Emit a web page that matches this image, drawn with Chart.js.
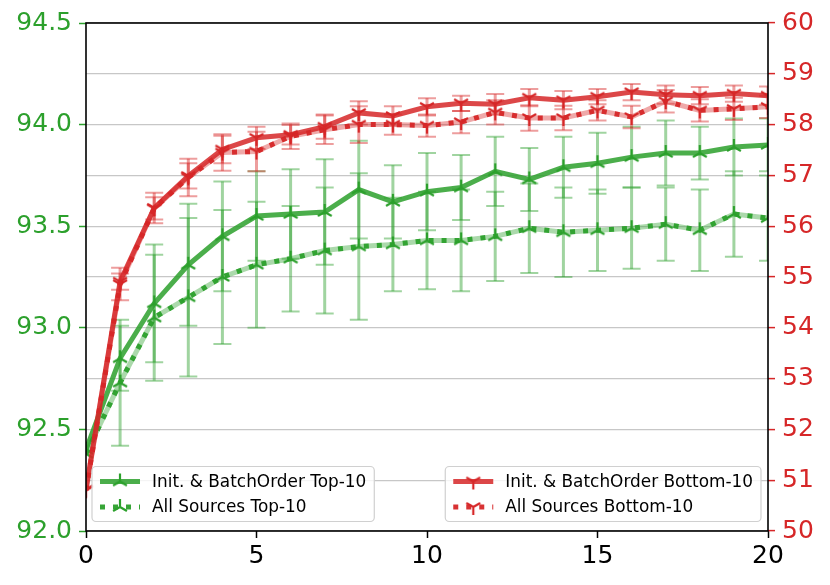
<!DOCTYPE html>
<html>
<head>
<meta charset="utf-8">
<title>Top-10 vs Bottom-10</title>
<script src="https://cdn.jsdelivr.net/npm/chart.js@4.4.1/dist/chart.umd.min.js"></script>
<style>
  html, body { margin: 0; padding: 0; background: #fff; }
  #wrap { width: 830px; height: 585px; }
</style>
</head>
<body>
<div id="wrap"><canvas id="myChart" width="830" height="585"></canvas></div>
<script>
// x values (epochs)
let epochs = [0, 1, 2, 3, 4, 5, 6, 7, 8, 9, 10, 11, 12, 13, 14, 15, 16, 17, 18, 19, 20];

// Top-10 series (left axis)
let greenInit = [92.40, 92.85, 93.12, 93.31, 93.45, 93.55, 93.56, 93.57, 93.68, 93.62, 93.67,
                 93.69, 93.77, 93.73, 93.79, 93.81, 93.84, 93.86, 93.86, 93.89, 93.90];
let greenInitErr = [0, 0.16, 0.29, 0.30, 0.27, 0.22, 0.22, 0.26, 0.24, 0.18, 0.19,
                    0.16, 0.17, 0.155, 0.15, 0.15, 0.15, 0.16, 0.13, 0.14, 0.13];
let greenAll = [92.38, 92.73, 93.05, 93.15, 93.25, 93.31, 93.34, 93.38, 93.40, 93.41, 93.43,
                93.43, 93.45, 93.49, 93.47, 93.48, 93.49, 93.51, 93.48, 93.56, 93.54];
let greenAllErr = [0, 0.31, 0.31, 0.39, 0.33, 0.31, 0.26, 0.31, 0.36, 0.23, 0.24,
                   0.25, 0.22, 0.22, 0.22, 0.20, 0.20, 0.18, 0.20, 0.21, 0.21];

// Bottom-10 series (right axis)
let redInit = [50.82, 54.91, 56.36, 56.99, 57.51, 57.74, 57.80, 57.96, 58.23, 58.17, 58.35,
               58.42, 58.40, 58.53, 58.48, 58.55, 58.64, 58.59, 58.57, 58.61, 58.57];
let redInitErr = [0, 0.16, 0.30, 0.25, 0.27, 0.22, 0.19, 0.24, 0.23, 0.19, 0.17,
                  0.15, 0.20, 0.17, 0.18, 0.15, 0.16, 0.18, 0.17, 0.16, 0.18];
let redAll = [50.80, 54.86, 56.35, 56.96, 57.45, 57.47, 57.77, 57.90, 58.00, 58.00, 57.98,
              58.05, 58.24, 58.13, 58.13, 58.28, 58.15, 58.46, 58.28, 58.31, 58.35];
let redAllErr = [0, 0.32, 0.22, 0.37, 0.36, 0.39, 0.25, 0.28, 0.36, 0.20, 0.22,
                 0.22, 0.24, 0.25, 0.24, 0.20, 0.22, 0.22, 0.22, 0.22, 0.22];

// axis ranges and ticks
let xTicks = { min: 0, max: 20, step: 5 };
let leftTicks = { min: 92.0, max: 94.5, step: 0.5 };
let rightTicks = { min: 50, max: 60, step: 1 };

// legend labels
let labelGreenInit = 'Init. & BatchOrder Top-10';
let labelGreenAll = 'All Sources Top-10';
let labelRedInit = 'Init. & BatchOrder Bottom-10';
let labelRedAll = 'All Sources Bottom-10';

// colours (matplotlib tab:green / tab:red)
let green = 'rgba(44, 160, 44, 0.85)';
let greenDot = 'rgba(44, 160, 44, 0.95)';
let greenLight = 'rgba(44, 160, 44, 0.40)';
let greenErr = 'rgba(44, 160, 44, 0.45)';
let red = 'rgba(214, 39, 40, 0.85)';
let redDot = 'rgba(214, 39, 40, 0.95)';
let redLight = 'rgba(214, 39, 40, 0.40)';
let redErr = 'rgba(214, 39, 40, 0.45)';

let tickFont = { family: 'DejaVu Sans', size: 25 };
let legendFont = '16.9px "DejaVu Sans"';

// small canvas with a matplotlib style tri marker ('2' tri_up, '1' tri_down)
function triMarker(color, pointUp) {
    let c = document.createElement('canvas');
    c.width = 20;
    c.height = 20;
    let ctx = c.getContext('2d');
    let r = 8;
    let s = pointUp ? -1 : 1;
    ctx.strokeStyle = color;
    ctx.lineWidth = 2.2;
    ctx.beginPath();
    ctx.moveTo(10, 10); ctx.lineTo(10, 10 + s * r);
    ctx.moveTo(10, 10); ctx.lineTo(10 - 0.866 * r, 10 - s * 0.5 * r);
    ctx.moveTo(10, 10); ctx.lineTo(10 + 0.866 * r, 10 - s * 0.5 * r);
    ctx.stroke();
    return c;
}

let greenMarker = triMarker('rgb(44, 160, 44)', true);
let redMarker = triMarker('rgb(214, 39, 40)', false);

//draws vertical error bars with caps, under the dataset that owns them
const errorBars = {
    id: 'errorBars',
    beforeDatasetDraw(chart, args) {
        let ds = chart.data.datasets[args.index];
        if (!ds.errors) return;
        let ctx = chart.ctx;
        let area = chart.chartArea;
        let yScale = chart.scales[ds.yAxisID];
        ctx.save();
        ctx.beginPath();
        ctx.rect(area.left, area.top, area.width, area.height);
        ctx.clip();
        ctx.strokeStyle = ds.errorColor;
        args.meta.data.forEach((pt, i) => {
            let err = ds.errors[i];
            if (!err) return;
            let top = yScale.getPixelForValue(ds.data[i] + err);
            let bottom = yScale.getPixelForValue(ds.data[i] - err);
            ctx.lineWidth = 3;
            ctx.beginPath();
            ctx.moveTo(pt.x, top);
            ctx.lineTo(pt.x, bottom);
            ctx.stroke();
            ctx.lineWidth = 2;
            ctx.beginPath();
            ctx.moveTo(pt.x - 9, top); ctx.lineTo(pt.x + 9, top);
            ctx.moveTo(pt.x - 9, bottom); ctx.lineTo(pt.x + 9, bottom);
            ctx.stroke();
        });
        ctx.restore();
    }
};

//black box round the plot area
const frame = {
    id: 'frame',
    afterDatasetsDraw(chart) {
        let ctx = chart.ctx;
        let a = chart.chartArea;
        ctx.save();
        ctx.strokeStyle = '#000';
        ctx.lineWidth = 1.6;
        ctx.strokeRect(a.left, a.top, a.width, a.height);
        ctx.restore();
    }
};

function roundRect(ctx, x, y, w, h, r) {
    ctx.beginPath();
    ctx.moveTo(x + r, y);
    ctx.lineTo(x + w - r, y);
    ctx.arcTo(x + w, y, x + w, y + r, r);
    ctx.lineTo(x + w, y + h - r);
    ctx.arcTo(x + w, y + h, x + w - r, y + h, r);
    ctx.lineTo(x + r, y + h);
    ctx.arcTo(x, y + h, x, y + h - r, r);
    ctx.lineTo(x, y + r);
    ctx.arcTo(x, y, x + r, y, r);
    ctx.closePath();
}

//two legend boxes (lower left and lower right), built from the datasets
const legendBoxes = {
    id: 'legendBoxes',
    afterDraw(chart) {
        let ctx = chart.ctx;
        let area = chart.chartArea;
        ctx.save();
        ctx.font = legendFont;
        ['left', 'right'].forEach(side => {
            let items = chart.data.datasets.filter(d => d.legendSide === side);
            items.sort((a, b) => a.legendRow - b.legendRow);
            let textW = Math.max(...items.map(d => ctx.measureText(d.label).width));
            let w = 8 + 40 + 12 + textW + 8;
            let h = 55;
            let x0 = side === 'left' ? area.left + 6 : area.right - 7 - w;
            let y0 = area.bottom - 9.5 - h;
            roundRect(ctx, x0, y0, w, h, 4);
            ctx.fillStyle = 'rgba(255, 255, 255, 0.8)';
            ctx.fill();
            ctx.strokeStyle = '#d0d0d0';
            ctx.lineWidth = 1.2;
            ctx.stroke();
            items.forEach((d, row) => {
                let yy = y0 + 15 + row * 25.5;
                let hx = x0 + 8;
                ctx.strokeStyle = d.borderColor;
                ctx.lineWidth = 5;
                ctx.setLineDash(d.borderDash || []);
                ctx.beginPath();
                ctx.moveTo(hx, yy);
                ctx.lineTo(hx + 40, yy);
                ctx.stroke();
                ctx.setLineDash([]);
                let m = d.pointStyle;
                ctx.drawImage(m, hx + 20 - m.width / 2, yy - m.height / 2);
                ctx.fillStyle = '#000';
                ctx.textBaseline = 'middle';
                ctx.textAlign = 'left';
                ctx.fillText(d.label, hx + 52, yy + 1);
            });
        });
        ctx.restore();
    }
};

const myChart = document.getElementById('myChart');

let chart = new Chart(myChart, {
    type: 'line',
    data: {
        labels: epochs,
        datasets: [
            {
                label: labelRedInit,
                data: redInit,
                yAxisID: 'y1',
                borderColor: red,
                borderWidth: 5,
                pointStyle: redMarker,
                pointRadius: 8,
                errors: redInitErr,
                errorColor: redErr,
                legendSide: 'right',
                legendRow: 0
            },
            {
                label: labelRedAll,
                data: redAll,
                yAxisID: 'y1',
                borderColor: redDot,
                borderWidth: 5,
                borderDash: [5, 8],
                borderCapStyle: 'butt',
                pointStyle: redMarker,
                pointRadius: 8,
                legendSide: 'right',
                legendRow: 1
            },
            {
                // light band behind the dotted line
                label: '',
                data: redAll,
                yAxisID: 'y1',
                borderColor: redLight,
                borderWidth: 5,
                pointRadius: 0,
                errors: redAllErr,
                errorColor: redErr
            },
            {
                label: labelGreenInit,
                data: greenInit,
                yAxisID: 'y',
                borderColor: green,
                borderWidth: 5,
                pointStyle: greenMarker,
                pointRadius: 8,
                errors: greenInitErr,
                errorColor: greenErr,
                legendSide: 'left',
                legendRow: 0
            },
            {
                label: labelGreenAll,
                data: greenAll,
                yAxisID: 'y',
                borderColor: greenDot,
                borderWidth: 5,
                borderDash: [5, 8],
                borderCapStyle: 'butt',
                pointStyle: greenMarker,
                pointRadius: 8,
                legendSide: 'left',
                legendRow: 1
            },
            {
                label: '',
                data: greenAll,
                yAxisID: 'y',
                borderColor: greenLight,
                borderWidth: 5,
                pointRadius: 0,
                errors: greenAllErr,
                errorColor: greenErr
            }
        ]
    },
    options: {
        responsive: false,
        animation: false,
        events: [],
        elements: { line: { tension: 0, fill: false } },
        layout: { padding: { top: 23, left: 0, right: 0, bottom: 0 } },
        plugins: {
            legend: { display: false },
            tooltip: { enabled: false }
        },
        scales: {
            x: {
                type: 'linear',
                min: xTicks.min,
                max: xTicks.max,
                afterFit: s => { s.height = 54; },
                ticks: { stepSize: xTicks.step, color: '#000', font: tickFont, padding: 3, maxRotation: 0 },
                grid: { drawOnChartArea: false, drawTicks: true, tickLength: 7, tickColor: '#000', tickWidth: 1.5 },
                border: { display: false }
            },
            y: {
                type: 'linear',
                position: 'left',
                min: leftTicks.min,
                max: leftTicks.max,
                afterFit: s => { s.width = 86; },
                ticks: {
                    stepSize: leftTicks.step,
                    color: 'rgb(44, 160, 44)',
                    font: tickFont,
                    padding: 7,
                    callback: v => v.toFixed(1)
                },
                grid: { drawOnChartArea: false, drawTicks: true, tickLength: 7, tickColor: 'rgb(44, 160, 44)', tickWidth: 1.5 },
                border: { display: false }
            },
            y1: {
                type: 'linear',
                position: 'right',
                min: rightTicks.min,
                max: rightTicks.max,
                afterFit: s => { s.width = 62; },
                ticks: { stepSize: rightTicks.step, color: 'rgb(214, 39, 40)', font: tickFont, padding: 7 },
                grid: {
                    drawOnChartArea: true,
                    color: 'rgba(0, 0, 0, 0.22)',
                    lineWidth: 1.2,
                    drawTicks: true,
                    tickLength: 7,
                    tickColor: 'rgb(214, 39, 40)',
                    tickWidth: 1.5
                },
                border: { display: false }
            }
        }
    },
    plugins: [errorBars, frame, legendBoxes]
});
</script>
</body>
</html>
